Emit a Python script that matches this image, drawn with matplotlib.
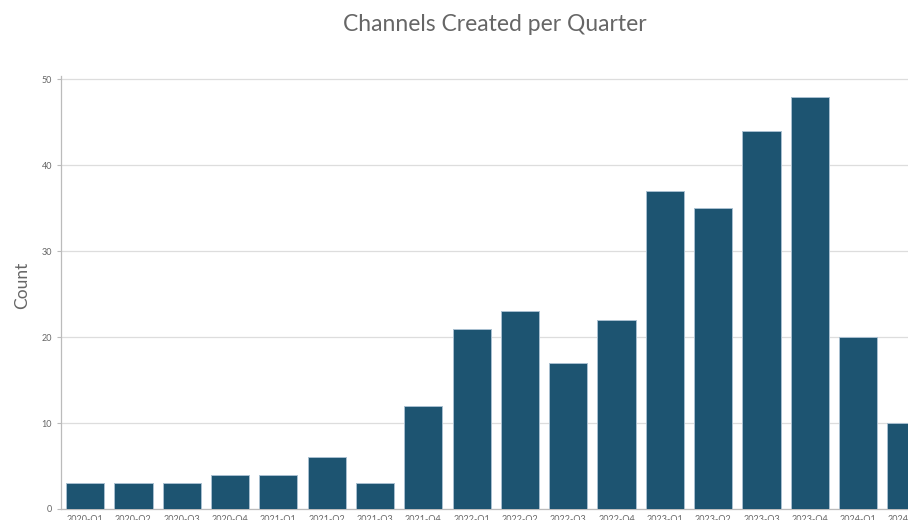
import matplotlib as mpl
mpl.use('Agg')
import matplotlib.pyplot as plt

quarters = ['2020-Q1', '2020-Q2', '2020-Q3', '2020-Q4',
            '2021-Q1', '2021-Q2', '2021-Q3', '2021-Q4',
            '2022-Q1', '2022-Q2', '2022-Q3', '2022-Q4',
            '2023-Q1', '2023-Q2', '2023-Q3', '2023-Q4',
            '2024-Q1', '2024-Q2']
counts = [3, 3, 3, 4, 4, 6, 3, 12, 21, 23, 17, 22, 37, 35, 44, 48, 20, 10]

plt.rcParams['font.family'] = ['Lato', 'DejaVu Sans']

fig = plt.figure(figsize=(9.08, 5.2), dpi=100)
# axes run a little past the right edge, so the last bar is cut off
ax = fig.add_axes([61 / 908, 11 / 520, 871 / 908, 433 / 520])

x = range(len(quarters))
ax.bar(x, counts, width=0.79, color='#1d5471', edgecolor='#a8bfd0',
       linewidth=0.7, zorder=3)

ax.set_xlim(-0.5, len(quarters) - 0.47)
ax.set_ylim(0, 50.4)
ax.set_yticks([0, 10, 20, 30, 40, 50])
ax.set_xticks(list(x))
ax.set_xticklabels(quarters)
ax.tick_params(axis='both', labelsize=6.5, labelcolor='#666666',
               color='#bbbbbb', length=3, width=0.8)
ax.tick_params(axis='x', length=0, pad=4)

ax.grid(axis='y', color='#dddddd', linewidth=0.9, zorder=0)
for side in ['top', 'right']:
    ax.spines[side].set_visible(False)
for side in ['left', 'bottom']:
    ax.spines[side].set_color('#bbbbbb')
    ax.spines[side].set_linewidth(0.9)

fig.text(22 / 908, 1 - 285 / 520, 'Count', rotation=90, ha='center',
         va='center', fontsize=12.5, color='#666666')
fig.text(495 / 908, 1 - 24 / 520, 'Channels Created per Quarter',
         ha='center', va='center', fontsize=16.5, color='#666666')

fig.savefig('out.png', dpi=100)
